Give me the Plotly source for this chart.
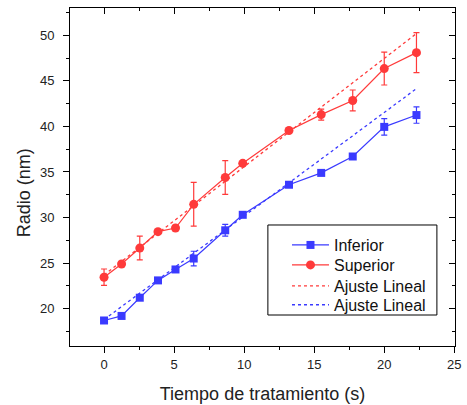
import plotly.graph_objects as go

tiempo = [0, 1.25, 2.55, 3.85, 5.1, 6.4, 8.65, 9.9, 13.2, 15.5, 17.75, 20.0, 22.3]
inferior = [18.7, 19.2, 21.2, 23.1, 24.3, 25.5, 28.6, 30.3, 33.6, 34.9, 36.7, 39.95, 41.25]
inferior_err = [0.25, 0.2, 0.2, 0.2, 0.2, 0.8, 0.65, 0.2, 0.15, 0.2, 0.2, 0.9, 0.9]
superior = [23.45, 24.9, 26.65, 28.45, 28.85, 31.45, 34.4, 35.95, 39.55, 41.3, 42.85, 46.35, 48.1]
superior_err = [0.9, 0.2, 1.3, 0.2, 0.2, 2.4, 1.85, 0.2, 0.3, 0.6, 1.15, 1.8, 2.2]
ajuste_x = [0, 22.3]
ajuste_sup = [23.7, 50.2]
ajuste_inf = [18.8, 44.15]

blue = "#3a3aff"
red = "#ff3a3a"
font = "Liberation Sans, Arial, sans-serif"

fig = go.Figure()
fig.add_trace(go.Scatter(x=tiempo, y=inferior, name="Inferior", mode="lines+markers",
                         line=dict(color=blue, width=1.2),
                         marker=dict(symbol="square", size=8, color=blue),
                         error_y=dict(type="data", array=inferior_err, color=blue, thickness=1.2, width=3),
                         legend="legend"))
fig.add_trace(go.Scatter(x=tiempo, y=superior, name="Superior", mode="lines+markers",
                         line=dict(color=red, width=1.2),
                         marker=dict(symbol="circle", size=9, color=red),
                         error_y=dict(type="data", array=superior_err, color=red, thickness=1.2, width=3),
                         legend="legend2"))
fig.add_trace(go.Scatter(x=ajuste_x, y=ajuste_sup, name="Ajuste Lineal", mode="lines",
                         line=dict(color=red, width=1.3, dash="dot"), legend="legend3"))
fig.add_trace(go.Scatter(x=ajuste_x, y=ajuste_inf, name="Ajuste Lineal", mode="lines",
                         line=dict(color=blue, width=1.3, dash="dot"), legend="legend4"))
# invisible trace to activate mirror axes
fig.add_trace(go.Scatter(x=[0], y=[30], xaxis="x2", yaxis="y2", mode="markers",
                         marker=dict(opacity=0), showlegend=False, hoverinfo="skip"))

xr = [-2.43, 25.05]
yr = [15.9, 53.0]
common = dict(showgrid=False, zeroline=False, showline=True, linecolor="black", linewidth=1,
              tickcolor="black", tickfont=dict(size=13, family=font, color="#222"))


def leg(ytop):
    return dict(x=0.5636, y=ytop, xanchor="left", yanchor="top",
                borderwidth=0, bgcolor="rgba(0,0,0,0)",
                font=dict(size=16, family=font, color="#111"), itemwidth=37)


fig.update_layout(
    width=467, height=405,
    margin=dict(l=70, r=12, t=8, b=59, autoexpand=False),
    paper_bgcolor="white", plot_bgcolor="white",
    font=dict(family=font, color="#222"),
    xaxis=dict(range=xr, dtick=5, tick0=0, ticks="outside", ticklen=6, tickwidth=1,
               minor=dict(dtick=2.5, tick0=0, ticks="outside", ticklen=3, tickcolor="black"),
               title=dict(text="Tiempo de tratamiento (s)", font=dict(size=18, family=font), standoff=16),
               **common),
    yaxis=dict(range=yr, dtick=5, tick0=0, ticks="outside", ticklen=6, tickwidth=1,
               ticklabelstandoff=6,
               minor=dict(dtick=2.5, tick0=0, ticks="outside", ticklen=3, tickcolor="black"),
               **common),
    xaxis2=dict(range=xr, overlaying="x", side="top", anchor="y2", dtick=5, tick0=0,
                ticks="inside", ticklen=6, showticklabels=False,
                minor=dict(dtick=2.5, tick0=0, ticks="inside", ticklen=3, tickcolor="black"),
                **common),
    yaxis2=dict(range=yr, overlaying="y", side="right", anchor="x2", dtick=5, tick0=0,
                ticks="inside", ticklen=6, showticklabels=False,
                minor=dict(dtick=2.5, tick0=0, ticks="inside", ticklen=3, tickcolor="black"),
                **common),
    legend=leg(0.349),
    legend2=leg(0.290),
    legend3=leg(0.228),
    legend4=leg(0.172),
    showlegend=True,
    shapes=[dict(type="rect", xref="paper", yref="paper", x0=0.514, x1=0.953, y0=0.0917, y1=0.358,
                 line=dict(color="black", width=1), fillcolor="white", layer="below")],
    annotations=[dict(text="Radio (nm)", xref="paper", yref="paper", x=-0.1195, y=0.455,
                      xanchor="center", yanchor="middle", textangle=-90, showarrow=False,
                      font=dict(size=18, family=font, color="#222"))],
)

fig.write_html("out.html", config={"displayModeBar": False},
               post_script="document.body.style.margin='0';document.body.style.overflow='hidden';")
